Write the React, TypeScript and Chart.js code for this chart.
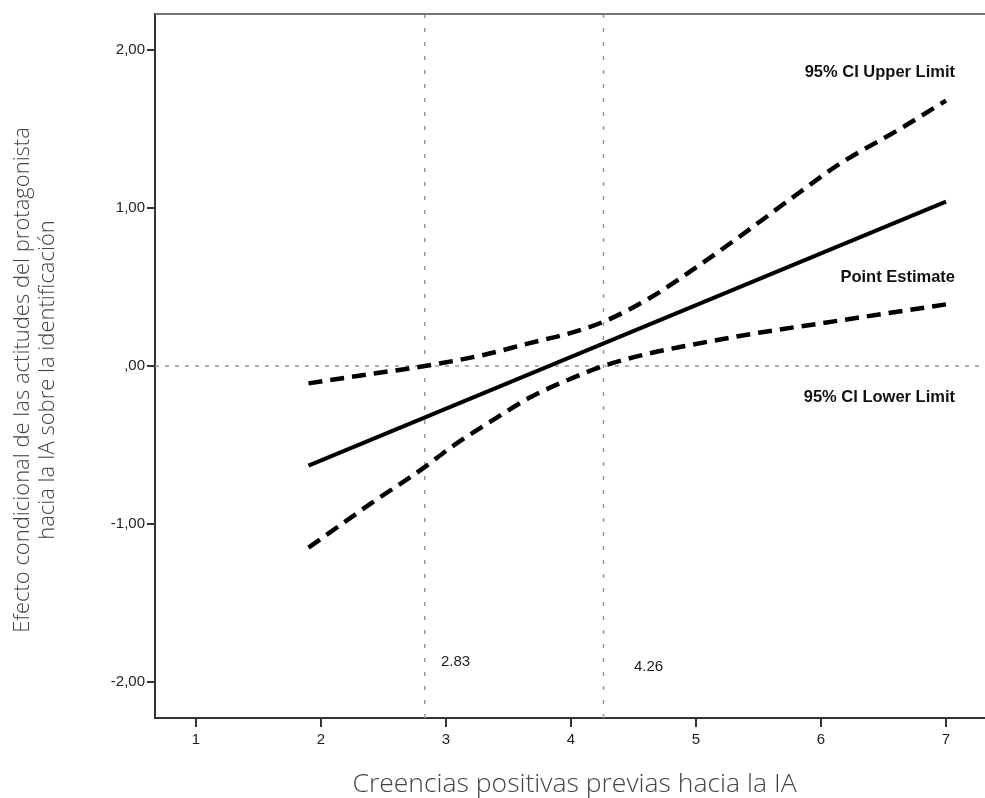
import React, { useEffect, useRef } from 'react';
import { Chart, registerables } from 'chart.js';

Chart.register(...registerables);

// Axis ranges and ticks
const xRange = [0.672, 7.312];
const yRange = [-2.228, 2.228];
const xTicks = [1, 2, 3, 4, 5, 6, 7];
const yTicks = [-2, -1, 0, 1, 2];

// Point estimate (conditional effect)
const estimateX = [1.9, 7.0];
const estimateY = [-0.63, 1.04];

// 95% CI lower limit
const lowerX = [1.9, 2.4, 2.83, 3.03, 3.4, 3.67, 4.0, 4.26, 4.6, 4.87, 5.5, 6.0, 6.5, 7.0];
const lowerY = [-1.15, -0.87, -0.64, -0.52, -0.33, -0.2, -0.08, 0.0, 0.075, 0.12, 0.21, 0.27, 0.33, 0.39];

// 95% CI upper limit
const upperX = [1.9, 2.4, 2.83, 3.3, 3.67, 4.0, 4.26, 4.63, 5.03, 5.35, 5.83, 6.15, 6.63, 7.0];
const upperY = [-0.11, -0.05, 0.0, 0.07, 0.145, 0.21, 0.28, 0.43, 0.64, 0.82, 1.1, 1.28, 1.5, 1.68];

// Johnson-Neyman points
const jnPoints = [2.83, 4.26];
const jnLabels = ['2.83', '4.26'];
const jnLabelX = [2.96, 4.504];
const jnLabelY = [-1.873, -1.905];

// Line labels
const lineLabels = ['95% CI Upper Limit', 'Point Estimate', '95% CI Lower Limit'];
const lineLabelX = [7.072, 7.072, 7.072];
const lineLabelY = [1.861, 0.563, -0.196];

const xTitle = 'Creencias positivas previas hacia la IA';
const yTitle = ['Efecto condicional de las actitudes del protagonista', 'hacia la IA sobre la identificación'];

const toPts = (xs: number[], ys: number[]) => xs.map((x, i) => ({ x, y: ys[i] }));

const overlayPlugin = {
  id: 'overlay',
  afterDraw(chart: any) {
    const { ctx, chartArea, scales } = chart;
    const sx = scales.x;
    const sy = scales.y;
    ctx.save();
    // top border
    ctx.strokeStyle = '#777';
    ctx.lineWidth = 2;
    ctx.beginPath();
    ctx.moveTo(chartArea.left, chartArea.top);
    ctx.lineTo(chart.width, chartArea.top);
    ctx.stroke();

    // line labels
    ctx.fillStyle = '#111';
    ctx.font = 'bold 16.5px "Liberation Sans", Arial, sans-serif';
    ctx.textAlign = 'right';
    ctx.textBaseline = 'middle';
    lineLabels.forEach((t, i) => {
      ctx.fillText(t, sx.getPixelForValue(lineLabelX[i]), sy.getPixelForValue(lineLabelY[i]));
    });

    // JN labels
    ctx.font = '15px "Liberation Sans", Arial, sans-serif';
    ctx.textAlign = 'left';
    ctx.fillStyle = '#222';
    jnLabels.forEach((t, i) => {
      ctx.fillText(t, sx.getPixelForValue(jnLabelX[i]), sy.getPixelForValue(jnLabelY[i]));
    });

    // X title
    ctx.font = '300 26.5px "Open Sans", sans-serif';
    ctx.fillStyle = '#444';
    ctx.textAlign = 'center';
    ctx.textBaseline = 'alphabetic';
    ctx.fillText(xTitle, 574.5, 792);

    // Y title
    ctx.font = '300 22px "Open Sans", sans-serif';
    ctx.translate(0, 380);
    ctx.rotate(-Math.PI / 2);
    ctx.fillText(yTitle[0], 0, 29);
    ctx.fillText(yTitle[1], 0, 54);
    ctx.restore();
  },
};

export default function App() {
  const ref = useRef<HTMLCanvasElement>(null);
  useEffect(() => {
    document.body.style.margin = '0';
    const refDash = { borderColor: '#999', borderWidth: 1.5, pointRadius: 0, fill: false };
    const chart = new Chart(ref.current as HTMLCanvasElement, {
      type: 'line',
      data: {
        datasets: [
          {
            label: 'Point Estimate',
            data: toPts(estimateX, estimateY),
            borderColor: '#000',
            borderWidth: 4,
            pointRadius: 0,
          },
          {
            label: '95% CI Upper Limit',
            data: toPts(upperX, upperY),
            borderColor: '#000',
            borderWidth: 4.5,
            borderDash: [14, 8],
            borderCapStyle: 'butt',
            pointRadius: 0,
            cubicInterpolationMode: 'monotone',
          },
          {
            label: '95% CI Lower Limit',
            data: toPts(lowerX, lowerY),
            borderColor: '#000',
            borderWidth: 4.5,
            borderDash: [14, 8],
            borderCapStyle: 'butt',
            pointRadius: 0,
            cubicInterpolationMode: 'monotone',
          },
          {
            label: 'zero',
            data: [{ x: xRange[0], y: 0 }, { x: xRange[1], y: 0 }],
            borderDash: [4, 6],
            ...refDash,
          },
          ...jnPoints.map((p) => ({
            label: 'jn' + p,
            data: [{ x: p, y: yRange[0] }, { x: p, y: yRange[1] }],
            borderDash: [4, 10],
            ...refDash,
          })),
        ] as any,
      },
      options: {
        animation: false,
        responsive: true,
        maintainAspectRatio: false,
        layout: { padding: { top: 14, left: 0, right: 0, bottom: 0 } },
        plugins: { legend: { display: false }, tooltip: { enabled: false } },
        scales: {
          x: {
            type: 'linear',
            min: xRange[0],
            max: xRange[1],
            afterBuildTicks: (s: any) => {
              s.ticks = xTicks.map((v) => ({ value: v }));
            },
            afterFit: (s: any) => {
              s.height = 80;
            },
            border: { color: '#333', width: 2 },
            grid: { drawOnChartArea: false, color: '#333', lineWidth: 2, tickLength: 9 },
            ticks: {
              padding: 4,
              color: '#222',
              font: { family: '"Liberation Sans", Arial, sans-serif', size: 15 },
              callback: (v: any) => String(v),
              maxRotation: 0,
            },
          },
          y: {
            type: 'linear',
            min: yRange[0],
            max: yRange[1],
            afterBuildTicks: (s: any) => {
              s.ticks = yTicks.map((v) => ({ value: v }));
            },
            afterFit: (s: any) => {
              s.width = 155;
            },
            border: { color: '#333', width: 2 },
            grid: { drawOnChartArea: false, color: '#333', lineWidth: 2, tickLength: 8 },
            ticks: {
              padding: 2,
              color: '#222',
              font: { family: '"Liberation Sans", Arial, sans-serif', size: 15 },
              callback: (v: any) => (v === 0 ? ',00' : Number(v).toFixed(2).replace('.', ',')),
            },
          },
        },
      },
      plugins: [overlayPlugin],
    });
    return () => chart.destroy();
  }, []);
  return (
    <div style={{ width: 985, height: 798, position: 'relative' }}>
      <canvas ref={ref} />
    </div>
  );
}
